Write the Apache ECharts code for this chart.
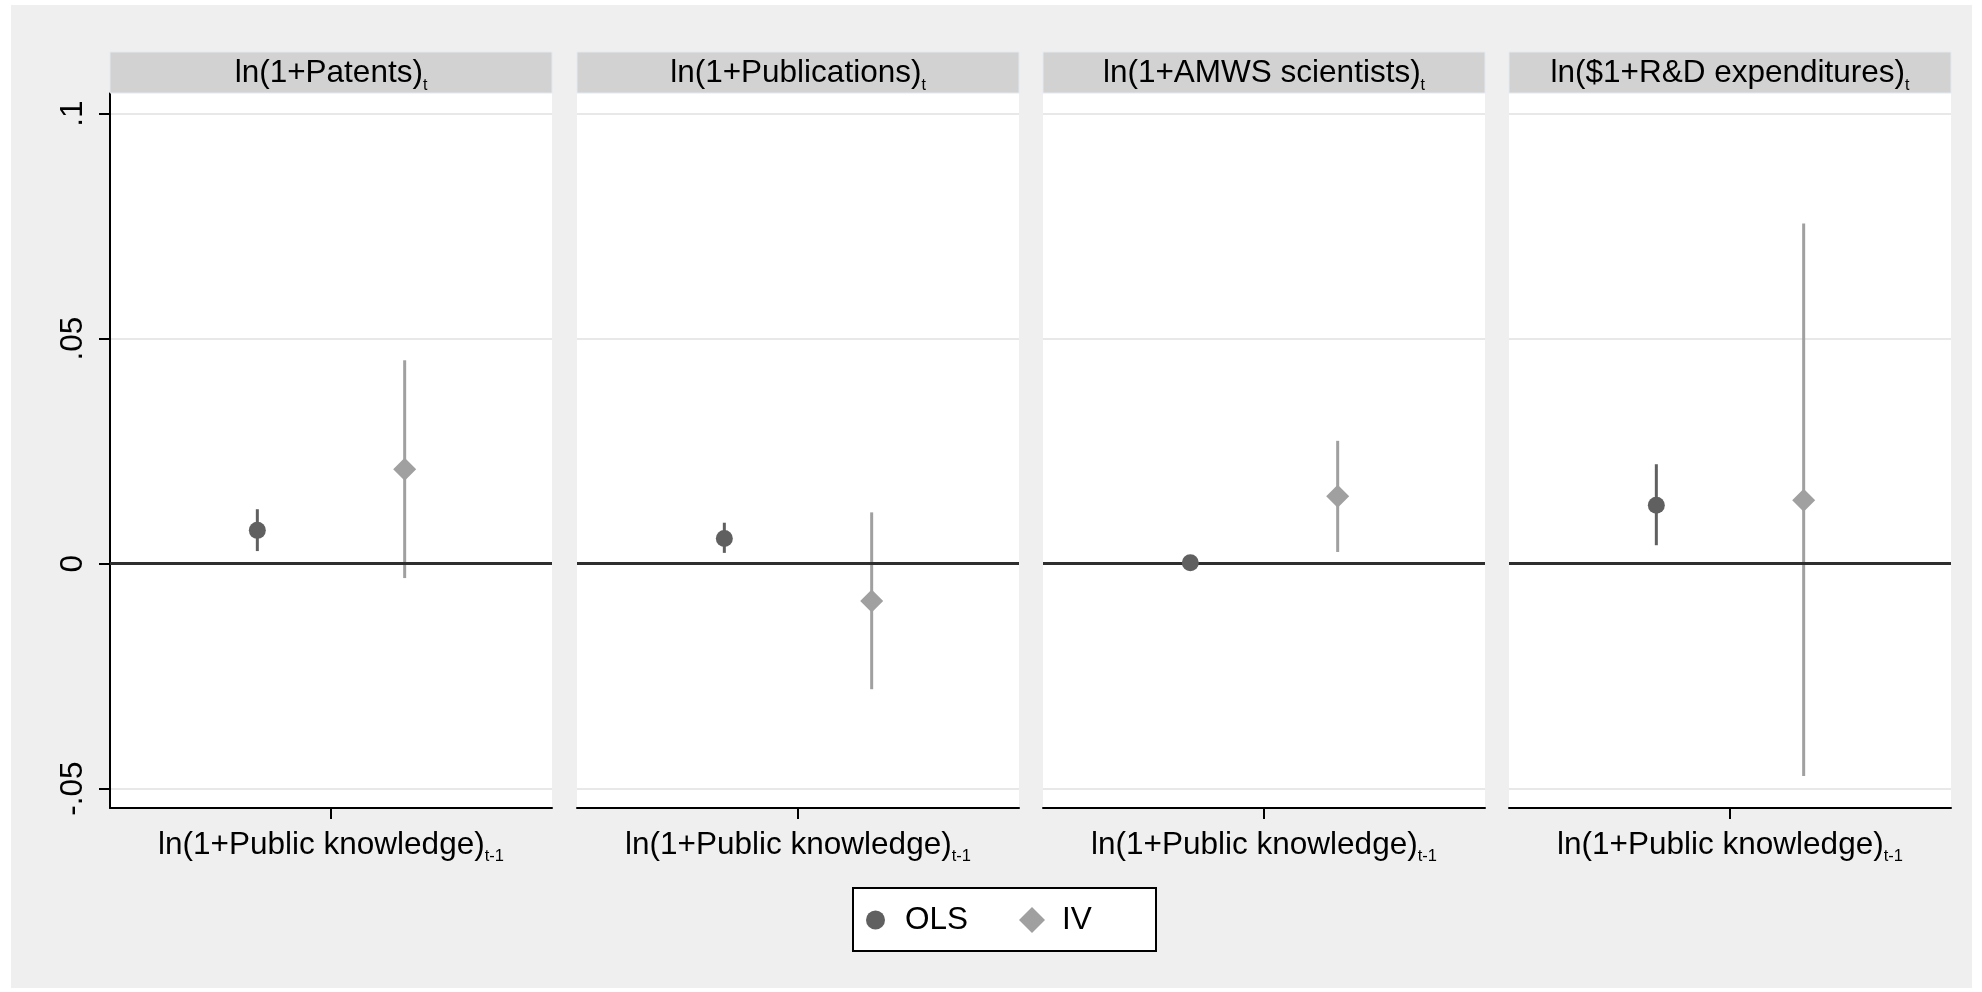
<!DOCTYPE html>
<html><head><meta charset="utf-8">
<script src="https://cdn.jsdelivr.net/npm/echarts@6/dist/echarts.min.js"></script>
<style>html,body{margin:0;padding:0;background:#fff}#c{width:1982px;height:992px}</style>
</head><body><div id="c"></div>
<script>
// ---- data ----
const panelTitles = ['ln(1+Patents)', 'ln(1+Publications)', 'ln(1+AMWS scientists)', 'ln($1+R&D expenditures)'];
const panelTitleSub = 't';
const xLabelMain = 'ln(1+Public knowledge)';
const xLabelSub = 't-1';
const models = ['OLS', 'IV'];
const olsCoef = [0.0074, 0.0056, 0.0002, 0.0130];
const olsLo   = [0.0028, 0.0024, -0.0010, 0.0041];
const olsHi   = [0.0121, 0.0091, 0.0014, 0.0221];
const ivCoef  = [0.0210, -0.0083, 0.0150, 0.0141];
const ivLo    = [-0.0032, -0.0279, 0.0026, -0.0472];
const ivHi    = [0.0452, 0.0114, 0.0273, 0.0756];
const yTicks = [-0.05, 0, 0.05, 0.1];
const yTickLabels = ['-.05', '0', '.05', '.1'];
const refLine = 0;

// ---- layout / style ----
const FONT = "'Liberation Sans', Arial, sans-serif";
const FS = 31.5;
const panelLefts = [110, 577, 1043, 1509];
const panelW = 442, plotTop = 93, plotBottom = 808;
const headerTop = 52;
const modelPos = {OLS: 1, IV: 2};
const xTick = [(modelPos.OLS + modelPos.IV) / 2];
const colOLS = '#606060', colIV = '#a0a0a0';

function yLab(v) {
  let best = 0;
  yTicks.forEach((t, k) => { if (Math.abs(t - v) < Math.abs(yTicks[best] - v)) best = k; });
  return yTickLabels[best];
}

const grid = [], xAxis = [], yAxis = [], series = [], graphic = [];
// white outer margins around the grey graph region
graphic.push({type: 'rect', z: 0, shape: {x: 0, y: 0, width: 1982, height: 5}, style: {fill: '#fff'}});
graphic.push({type: 'rect', z: 0, shape: {x: 0, y: 0, width: 11, height: 992}, style: {fill: '#fff'}});
graphic.push({type: 'rect', z: 0, shape: {x: 1972, y: 0, width: 10, height: 992}, style: {fill: '#fff'}});
graphic.push({type: 'rect', z: 0, shape: {x: 0, y: 988, width: 1982, height: 4}, style: {fill: '#fff'}});

panelLefts.forEach((left, i) => {
  grid.push({left: left, width: panelW, top: plotTop, height: plotBottom - plotTop,
    show: true, backgroundColor: '#ffffff', borderWidth: 0});
  xAxis.push({gridIndex: i, type: 'value', min: 0, max: 3,
    axisLine: {show: true, onZero: false, lineStyle: {color: '#000', width: 2}},
    axisTick: {show: true, customValues: xTick, length: 11, lineStyle: {color: '#000', width: 2}},
    axisLabel: {show: true, customValues: xTick, margin: 17,
      formatter: () => '{a|' + xLabelMain + '}{b|' + xLabelSub + '}',
      rich: {
        a: {fontFamily: FONT, fontSize: FS, lineHeight: 40, color: '#000'},
        b: {fontFamily: FONT, fontSize: 16.5, lineHeight: 24, verticalAlign: 'bottom', color: '#000'}
      }},
    splitLine: {show: false}
  });
  yAxis.push({gridIndex: i, type: 'value', min: -0.0543, max: 0.1046,
    axisLine: {show: i === 0, onZero: false, lineStyle: {color: '#000', width: 2}},
    axisTick: {show: i === 0, customValues: yTicks, length: 11, lineStyle: {color: '#000', width: 2}},
    axisLabel: {show: i === 0, customValues: yTicks, rotate: 90, margin: 21,
      formatter: yLab, fontFamily: FONT, fontSize: FS, color: '#000'},
    splitLine: {show: true, lineStyle: {color: '#e8e8e8', width: 2}}
  });
  // reference line at zero
  series.push({type: 'line', name: 'ref' + i, xAxisIndex: i, yAxisIndex: i, data: [], z: 1,
    markLine: {silent: true, symbol: ['none', 'none'], label: {show: false},
      lineStyle: {color: '#2e2e2e', width: 3, type: 'solid'}, data: [{yAxis: refLine}]}});
  // confidence intervals
  const ci = (name, x, lo, hi, col) => ({
    type: 'custom', name: name, xAxisIndex: i, yAxisIndex: i, z: 3,
    data: [[x, lo, hi]],
    encode: {x: 0, y: [1, 2]},
    renderItem: (params, api) => {
      const p1 = api.coord([api.value(0), api.value(1)]);
      const p2 = api.coord([api.value(0), api.value(2)]);
      return {type: 'line', shape: {x1: p1[0], y1: p1[1], x2: p2[0], y2: p2[1]},
        style: {stroke: col, lineWidth: 3}};
    }
  });
  series.push(ci('OLS CI', modelPos.OLS, olsLo[i], olsHi[i], colOLS));
  series.push(ci('IV CI', modelPos.IV, ivLo[i], ivHi[i], colIV));
  series.push({type: 'scatter', name: 'OLS', xAxisIndex: i, yAxisIndex: i, z: 5,
    symbol: 'circle', symbolSize: 17, itemStyle: {color: colOLS, opacity: 1},
    data: [[modelPos.OLS, olsCoef[i]]]});
  series.push({type: 'scatter', name: 'IV', xAxisIndex: i, yAxisIndex: i, z: 5,
    symbol: 'diamond', symbolSize: 23, itemStyle: {color: colIV, opacity: 1},
    data: [[modelPos.IV, ivCoef[i]]]});
  // header strip
  graphic.push({type: 'rect', z: 1, shape: {x: left, y: headerTop, width: panelW, height: plotTop - headerTop},
    style: {fill: '#d2d2d2', stroke: '#e2eaee', lineWidth: 1}});
  graphic.push({type: 'text', z: 2, x: left + panelW / 2, y: (headerTop + plotTop) / 2 + 1,
    style: {text: '{a|' + panelTitles[i] + '}{b|' + panelTitleSub + '}',
      align: 'center', verticalAlign: 'middle', textAlign: 'center', textVerticalAlign: 'middle',
      rich: {
        a: {fontFamily: FONT, fontSize: FS, lineHeight: 40, fill: '#000', color: '#000'},
        b: {fontFamily: FONT, fontSize: 16, lineHeight: 24, verticalAlign: 'bottom', fill: '#000', color: '#000'}
      }}});
});

// legend box
graphic.push({type: 'rect', z: 1, shape: {x: 853, y: 888, width: 303, height: 63},
  style: {fill: '#ffffff', stroke: '#000', lineWidth: 2}});

const option = {
  animation: false,
  backgroundColor: '#efefef',
  textStyle: {fontFamily: FONT},
  grid, xAxis, yAxis, series, graphic,
  legend: [
    {data: [{name: models[0], icon: 'circle'}], left: 866, top: 902, padding: 0,
     itemWidth: 19, itemHeight: 19, selectedMode: false,
     textStyle: {fontFamily: FONT, fontSize: FS, lineHeight: 36, color: '#000', padding: [0, 0, 0, 15]}},
    {data: [{name: models[1], icon: 'diamond'}], left: 1019, top: 902, padding: 0,
     itemWidth: 26, itemHeight: 26, selectedMode: false,
     textStyle: {fontFamily: FONT, fontSize: FS, lineHeight: 36, color: '#000', padding: [0, 0, 0, 12]}}
  ]
};
echarts.init(document.getElementById('c')).setOption(option);
</script>
</body></html>
